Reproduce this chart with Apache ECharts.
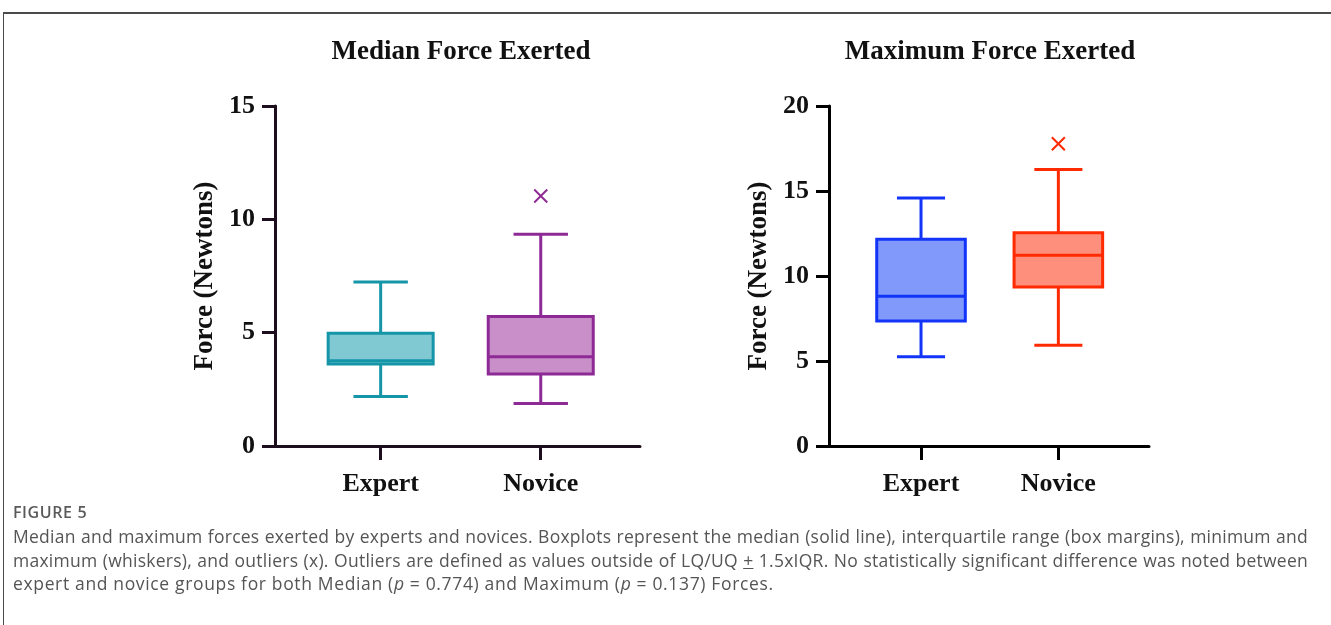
<!DOCTYPE html>
<html>
<head>
<meta charset="utf-8">
<script src="https://cdn.jsdelivr.net/npm/echarts@6/dist/echarts.min.js"></script>
<style>
  html, body { margin: 0; padding: 0; background: #fff; }
  #wrap { position: relative; width: 1331px; height: 625px; overflow: hidden; }
  #chart { position: absolute; left: 0; top: 0; width: 1331px; height: 625px; }
  #frameTop { position: absolute; left: 3px; top: 12px; width: 1328px; height: 0; border-top: 2px solid #4a4a4a; }
  #frameLeft { position: absolute; left: 3px; top: 12px; width: 0; height: 613px; border-left: 1px solid #4a4a4a; }
  #figlabel { position: absolute; left: 13px; top: 501px; font-family: "Open Sans", sans-serif; font-size: 16px; font-weight: 600; color: #5a5a5a; letter-spacing: 0.6px; }
  #caption { position: absolute; left: 13px; top: 525px; width: 1295px; font-family: "Open Sans", sans-serif; font-size: 17.5px; font-weight: 400; letter-spacing: 0.25px; line-height: 23.5px; color: #555; }
  #caption .ln { display: block; white-space: nowrap; text-align: justify; text-align-last: justify; }
  #caption .ln.last { text-align-last: left; letter-spacing: 0.65px; }
</style>
</head>
<body>
<div id="wrap">
  <div id="chart"></div>
  <div id="frameTop"></div>
  <div id="frameLeft"></div>
  <div id="figlabel">FIGURE 5</div>
  <div id="caption"><span class="ln">Median and maximum forces exerted by experts and novices. Boxplots represent the median (solid line), interquartile range (box margins), minimum and</span><span class="ln">maximum (whiskers), and outliers (x). Outliers are defined as values outside of LQ/UQ <span style="text-decoration: underline;">+</span> 1.5xIQR. No statistically significant difference was noted between</span><span class="ln last">expert and novice groups for both Median (<i>p</i> = 0.774) and Maximum (<i>p</i> = 0.137) Forces.</span></div>
</div>
<script>
// ---------- data ----------
const categories = ['Expert', 'Novice'];
const chartTitles = ['Median Force Exerted', 'Maximum Force Exerted'];
const yAxisName = 'Force (Newtons)';
// [min, Q1, median, Q3, max]
const medianExpert = [2.18, 3.62, 3.76, 4.97, 7.23];
const medianNovice = [1.88, 3.18, 3.94, 5.71, 9.34];
const medianNoviceOutliers = [11.03];
const maxExpert = [5.25, 7.36, 8.81, 12.16, 14.59];
const maxNovice = [5.93, 9.36, 11.22, 12.55, 16.27];
const maxNoviceOutliers = [17.78];
const medianYTicks = [0, 5, 10, 15];
const maxYTicks = [0, 5, 10, 15, 20];

// ---------- styles ----------
const strokeColors = [['#1596a8', '#8e2a95'], ['#1234f8', '#ff2a00']];
const fillColors = [['#80c8d2', '#c98fc8'], ['#8099fb', '#ff8f7d']];
const axisColors = ['#1c0e1c', '#000000'];
const serif = '"Liberation Serif", "Times New Roman", serif';

function boxData(arrs) {
  return arrs.map((a, i) => [i + 1].concat(a));
}
function outlierData(catIndex, arr) {
  return arr.map(v => [catIndex + 1, v]);
}

function makeBoxRender(panel, boxFrac, capFrac) {
  return function (params, api) {
    const i = params.dataIndex;
    const x = api.value(0);
    const pLo = api.coord([x, api.value(1)]);
    const pQ1 = api.coord([x, api.value(2)]);
    const pMed = api.coord([x, api.value(3)]);
    const pQ3 = api.coord([x, api.value(4)]);
    const pHi = api.coord([x, api.value(5)]);
    const bw = api.size([boxFrac, 0])[0];
    const cw = api.size([capFrac, 0])[0];
    const cx = pMed[0];
    const stroke = strokeColors[panel][i];
    const fill = fillColors[panel][i];
    const ls = { stroke: stroke, lineWidth: 3, fill: null };
    return {
      type: 'group',
      children: [
        { type: 'line', shape: { x1: cx, y1: pLo[1], x2: cx, y2: pQ1[1] }, style: ls },
        { type: 'line', shape: { x1: cx, y1: pQ3[1], x2: cx, y2: pHi[1] }, style: ls },
        { type: 'line', shape: { x1: cx - cw / 2, y1: pLo[1], x2: cx + cw / 2, y2: pLo[1] }, style: ls },
        { type: 'line', shape: { x1: cx - cw / 2, y1: pHi[1], x2: cx + cw / 2, y2: pHi[1] }, style: ls },
        { type: 'rect', shape: { x: cx - bw / 2, y: pQ3[1], width: bw, height: pQ1[1] - pQ3[1] },
          style: { fill: fill, stroke: stroke, lineWidth: 3 } },
        { type: 'line', shape: { x1: cx - bw / 2, y1: pMed[1], x2: cx + bw / 2, y2: pMed[1] }, style: ls }
      ]
    };
  };
}

function makeOutlierRender(panel) {
  return function (params, api) {
    const p = api.coord([api.value(0), api.value(1)]);
    const h = 6.5;
    const stroke = strokeColors[panel][api.value(0) - 1];
    const ls = { stroke: stroke, lineWidth: 2 };
    return {
      type: 'group',
      children: [
        { type: 'line', shape: { x1: p[0] - h, y1: p[1] - h, x2: p[0] + h, y2: p[1] + h }, style: ls },
        { type: 'line', shape: { x1: p[0] - h, y1: p[1] + h, x2: p[0] + h, y2: p[1] - h }, style: ls }
      ]
    };
  };
}

function xAxisCfg(gridIndex, min, max, color) {
  return {
    type: 'value', gridIndex: gridIndex, min: min, max: max,
    splitLine: { show: false },
    axisLine: { show: true, onZero: false, lineStyle: { color: color, width: 3 } },
    axisTick: { show: true, length: 14, customValues: categories.map((c, i) => i + 1), lineStyle: { color: color, width: 3 } },
    axisLabel: {
      customValues: categories.map((c, i) => i + 1),
      formatter: v => categories[Math.round(v) - 1] || '',
      margin: 25, color: '#111', fontFamily: serif, fontWeight: 'bold', fontSize: 26
    }
  };
}
function yAxisCfg(gridIndex, ticks, color) {
  return {
    type: 'value', gridIndex: gridIndex,
    min: ticks[0], max: ticks[ticks.length - 1], interval: ticks[1] - ticks[0],
    splitLine: { show: false },
    axisLine: { show: true, onZero: false, lineStyle: { color: color, width: 3 } },
    axisTick: { show: true, length: 13, lineStyle: { color: color, width: 3 } },
    axisLabel: { margin: 20, color: '#111', fontFamily: serif, fontWeight: 'bold', fontSize: 26 },
    name: yAxisName, nameLocation: 'middle', nameGap: 56, nameRotate: 90,
    nameTextStyle: { color: '#111', fontFamily: serif, fontWeight: 'bold', fontSize: 27 }
  };
}

const chart = echarts.init(document.getElementById('chart'), null, { renderer: 'canvas' });
chart.setOption({
  backgroundColor: '#ffffff',
  animation: false,
  title: [
    { text: chartTitles[0], left: 456, top: 34, textAlign: 'center',
      textStyle: { fontFamily: serif, fontWeight: 'bold', fontSize: 27, color: '#111' } },
    { text: chartTitles[1], left: 985, top: 34, textAlign: 'center',
      textStyle: { fontFamily: serif, fontWeight: 'bold', fontSize: 27, color: '#111' } }
  ],
  grid: [
    { left: 275, top: 106, width: 365, height: 340 },
    { left: 829, top: 106, width: 320, height: 340 }
  ],
  xAxis: [
    xAxisCfg(0, 0.34, 2.62, axisColors[0]),
    xAxisCfg(1, 0.33, 2.66, axisColors[1])
  ],
  yAxis: [
    yAxisCfg(0, medianYTicks, axisColors[0]),
    yAxisCfg(1, maxYTicks, axisColors[1])
  ],
  series: [
    { type: 'custom', xAxisIndex: 0, yAxisIndex: 0, data: boxData([medianExpert, medianNovice]),
      encode: { x: 0, y: [1, 2, 3, 4, 5] }, renderItem: makeBoxRender(0, 0.656, 0.34) },
    { type: 'custom', xAxisIndex: 0, yAxisIndex: 0, data: outlierData(1, medianNoviceOutliers),
      encode: { x: 0, y: 1 }, renderItem: makeOutlierRender(0) },
    { type: 'custom', xAxisIndex: 1, yAxisIndex: 1, data: boxData([maxExpert, maxNovice]),
      encode: { x: 0, y: [1, 2, 3, 4, 5] }, renderItem: makeBoxRender(1, 0.645, 0.35) },
    { type: 'custom', xAxisIndex: 1, yAxisIndex: 1, data: outlierData(1, maxNoviceOutliers),
      encode: { x: 0, y: 1 }, renderItem: makeOutlierRender(1) }
  ]
});
</script>
</body>
</html>
